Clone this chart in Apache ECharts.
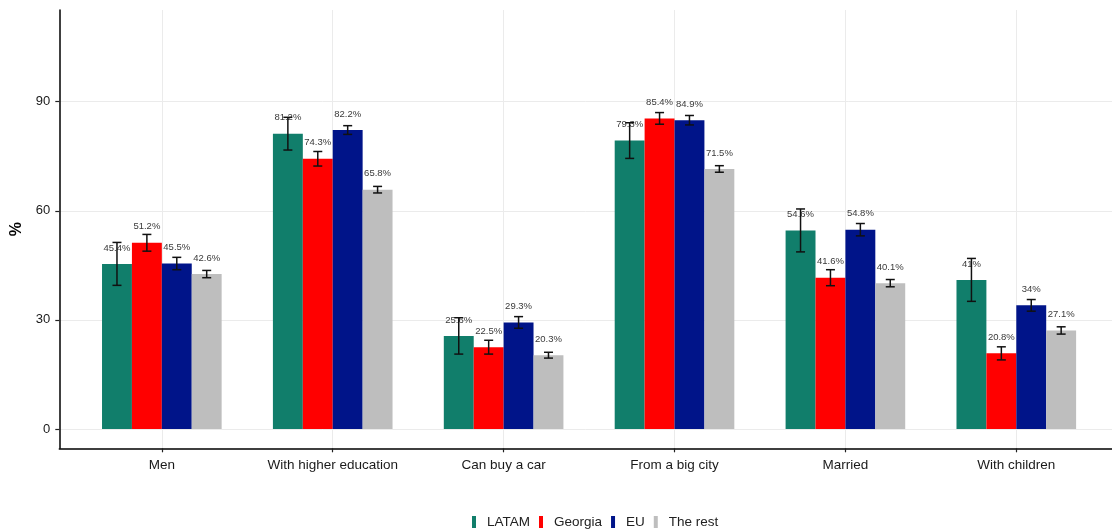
<!DOCTYPE html>
<html>
<head>
<meta charset="utf-8">
<script src="https://cdn.jsdelivr.net/npm/echarts@6/dist/echarts.min.js"></script>
<style>
html,body{margin:0;padding:0;background:#fff;}
#chart{width:1112px;height:531px;}
</style>
</head>
<body>
<div id="chart"></div>
<script>
const categories = ['Men', 'With higher education', 'Can buy a car', 'From a big city', 'Married', 'With children'];
const groups = ['LATAM', 'Georgia', 'EU', 'The rest'];
const colors = ['#117e6b', '#ff0000', '#001489', '#bebebe'];
const yTicks = [0, 30, 60, 90];

const latam = [45.4, 81.2, 25.6, 79.3, 54.6, 41];
const georgia = [51.2, 74.3, 22.5, 85.4, 41.6, 20.8];
const eu = [45.5, 82.2, 29.3, 84.9, 54.8, 34];
const rest = [42.6, 65.8, 20.3, 71.5, 40.1, 27.1];

const latamErr = [5.9, 4.5, 5.0, 4.9, 5.9, 5.9];
const georgiaErr = [2.3, 2.0, 1.9, 1.6, 2.2, 1.8];
const euErr = [1.7, 1.2, 1.6, 1.3, 1.7, 1.6];
const restErr = [1.0, 0.9, 0.8, 0.9, 1.0, 1.0];

const values = [latam, georgia, eu, rest];
const errs = [latamErr, georgiaErr, euErr, restErr];

const FONT = 'Liberation Sans, Arial, sans-serif';
const dodge = 0.7;              // group width in category units
const barUnit = dodge / groups.length;

const chart = echarts.init(document.getElementById('chart'), null, {renderer: 'canvas'});

const series = [];
groups.forEach((g, gi) => {
  series.push({
    name: g,
    type: 'bar',
    barGap: '0%',
    barCategoryGap: '30%',
    itemStyle: {color: colors[gi]},
    data: values[gi].map((v, i) => [i, v]),
    label: {
      show: true,
      position: 'top',
      distance: 11,
      fontFamily: FONT,
      fontSize: 9.5,
      color: '#3a3a3a',
      formatter: p => p.value[1] + '%'
    },
    z: 2
  });
});
groups.forEach((g, gi) => {
  series.push({
    name: g + ' error',
    type: 'custom',
    z: 5,
    encode: {x: 0, y: [1, 2]},
    data: values[gi].map((v, i) => [i, v - errs[gi][i], v + errs[gi][i]]),
    renderItem: function (params, api) {
      const xc = api.value(0) + (gi - 1.5) * barUnit;
      const lo = api.coord([xc, api.value(1)]);
      const hi = api.coord([xc, api.value(2)]);
      const half = 4.5;
      const st = {stroke: '#111', lineWidth: 1.5};
      return {
        type: 'group',
        children: [
          {type: 'line', shape: {x1: lo[0], y1: lo[1], x2: hi[0], y2: hi[1]}, style: st},
          {type: 'line', shape: {x1: lo[0] - half, y1: lo[1], x2: lo[0] + half, y2: lo[1]}, style: st},
          {type: 'line', shape: {x1: hi[0] - half, y1: hi[1], x2: hi[0] + half, y2: hi[1]}, style: st}
        ]
      };
    }
  });
});

const option = {
  animation: false,
  backgroundColor: '#fff',
  textStyle: {fontFamily: FONT},
  grid: {left: 59.3, right: 0, top: 10, bottom: 82.7, containLabel: false},
  legend: {
    data: groups,
    bottom: -3,
    left: 467,
    itemWidth: 4,
    itemHeight: 12,
    itemGap: 9,
    icon: 'rect',
    textStyle: {fontFamily: FONT, fontSize: 13.5, color: '#222', padding: [0, 0, 0, 6]}
  },
  xAxis: {
    type: 'value',
    min: -0.6,
    max: 5.56,
    axisLine: {show: true, onZero: false, lineStyle: {color: '#000', width: 1.5}},
    axisTick: {show: true, length: 4, lineStyle: {color: '#222', width: 1.2}, customValues: categories.map((c, i) => i)},
    axisLabel: {
      customValues: categories.map((c, i) => i),
      formatter: v => categories[Math.round(v)],
      fontFamily: FONT, fontSize: 13.5, color: '#1a1a1a', margin: 10
    },
    splitLine: {show: true, lineStyle: {color: '#ebebeb', width: 1}}
  },
  yAxis: {
    type: 'value',
    min: -5.3,
    max: 115.2,
    name: '%',
    nameLocation: 'middle',
    nameGap: 35,
    nameRotate: 90,
    nameTextStyle: {fontFamily: FONT, fontSize: 16, fontWeight: 'bold', color: '#000'},
    axisLine: {show: true, onZero: false, lineStyle: {color: '#000', width: 1.5}},
    axisTick: {show: true, length: 4, lineStyle: {color: '#222', width: 1.2}, customValues: yTicks},
    axisLabel: {customValues: yTicks, fontFamily: FONT, fontSize: 13, color: '#1a1a1a', margin: 9},
    splitLine: {show: true, lineStyle: {color: '#ebebeb', width: 1}}
  },
  series: series
};
chart.setOption(option);
</script>
</body>
</html>
